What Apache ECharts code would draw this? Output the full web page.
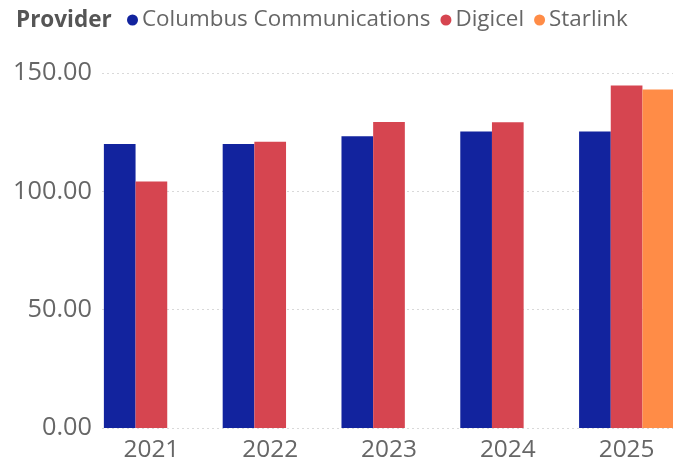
<!DOCTYPE html>
<html>
<head>
<meta charset="utf-8">
<script src="https://cdn.jsdelivr.net/npm/echarts@6/dist/echarts.min.js"></script>
<style>
html,body{margin:0;padding:0;background:#fff;}
#c{width:673px;height:465px;}
</style>
</head>
<body>
<div id="c"></div>
<script>
const years = ['2021', '2022', '2023', '2024', '2025'];
const columbus = [120, 120, 123.3, 125.3, 125.3];
const digicel = [104.2, 121, 129.3, 129.2, 144.7];
const starlink = [null, null, null, null, 143];
const yTicks = [0, 50, 100, 150];

const FONT = '"Open Sans", sans-serif';
const chart = echarts.init(document.getElementById('c'));
chart.setOption({
  animation: false,
  textStyle: { fontFamily: FONT },
  title: {
    text: 'Provider', left: 16, top: 9, padding: 0,
    textStyle: { fontFamily: FONT, fontSize: 22.5, fontWeight: 'bold', color: '#555555' }
  },
  legend: {
    left: 127, top: 9, padding: 0,
    icon: 'circle', itemWidth: 11, itemHeight: 11, itemGap: 10,
    textStyle: { fontFamily: FONT, fontSize: 22.4, color: '#666666', padding: [0, 0, 0, -1] },
    data: ['Columbus Communications', 'Digicel', 'Starlink']
  },
  grid: [
    { left: 102, width: 571, top: 73, height: 355, outerBoundsMode: 'none', containLabel: false },
    { left: 92, width: 594, top: 73, height: 355, outerBoundsMode: 'none', containLabel: false }
  ],
  xAxis: [
    { type: 'value', gridIndex: 0, show: false, min: 0, max: 1 },
    {
      type: 'category', gridIndex: 1, data: years,
      axisLine: { show: false }, axisTick: { show: false },
      axisLabel: { fontFamily: FONT, fontSize: 24.4, color: '#666666', margin: 10 }
    }
  ],
  yAxis: [
    {
      type: 'value', gridIndex: 0, min: yTicks[0], max: yTicks[yTicks.length - 1], interval: 50,
      axisLine: { show: false }, axisTick: { show: false },
      axisLabel: { fontFamily: FONT, fontSize: 25.3, color: '#666666', margin: 10,
        formatter: v => v.toFixed(2) },
      splitLine: { show: true, lineStyle: { color: '#d9d9d9', type: [2, 3], width: 1 } }
    },
    { type: 'value', gridIndex: 1, min: 0, max: 150, show: false }
  ],
  series: [
    { name: 'Columbus Communications', type: 'bar', xAxisIndex: 1, yAxisIndex: 1,
      data: columbus, itemStyle: { color: '#12239E' }, barGap: 0, barCategoryGap: '20%' },
    { name: 'Digicel', type: 'bar', xAxisIndex: 1, yAxisIndex: 1,
      data: digicel, itemStyle: { color: '#D64550' }, barGap: 0, barCategoryGap: '20%' },
    { name: 'Starlink', type: 'bar', xAxisIndex: 1, yAxisIndex: 1,
      data: starlink, itemStyle: { color: '#FF8C47' }, barGap: 0, barCategoryGap: '20%' }
  ]
});
</script>
</body>
</html>
